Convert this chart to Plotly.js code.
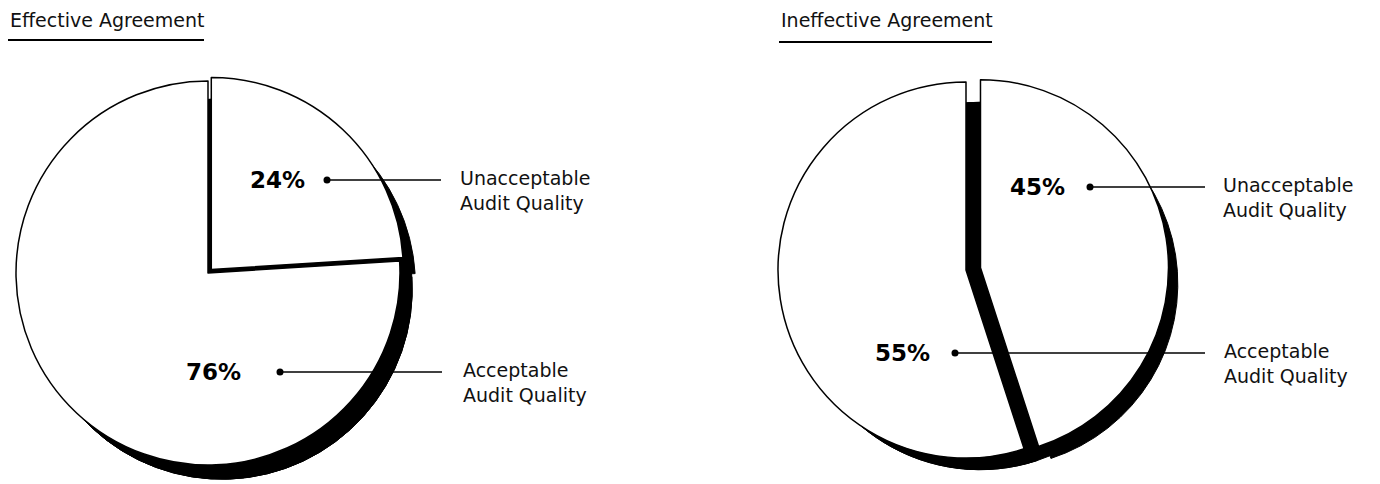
<!DOCTYPE html>
<html>
<head>
<meta charset="utf-8">
<script src="https://cdn.plot.ly/plotly-3.0.1.min.js"></script>
<style>
  html, body { margin: 0; padding: 0; background: #ffffff; overflow: hidden; }
  #chart { width: 1380px; height: 484px; }
</style>
</head>
<body>
<div id="chart"></div>
<script>
// ---- Data ----
const chartTitles = ["Effective Agreement", "Ineffective Agreement"];
const categories = ["Unacceptable<br>Audit Quality", "Acceptable<br>Audit Quality"];
const effectiveValues = [24, 76];
const ineffectiveValues = [45, 55];

// ---- Layout helpers (pixel -> paper) ----
const W = 1380, H = 484;
const px = x => x / W;
const py = y => 1 - y / H;

function boxHalf(cx, cy, half) {
  return Math.min(half, H - cy, cy, cx, W - cx);
}
function domainFromHalf(cx, cy, half) {
  return {
    x: [Math.max(0, (cx - half) / W), Math.min(1, (cx + half) / W)],
    y: [Math.max(0, 1 - (cy + half) / H), Math.min(1, 1 - (cy - half) / H)]
  };
}

const shadowOffset = { dx: 14, dy: 16 };

const pieSpecs = [
  { values: effectiveValues, pull: [0.025, 0], cx: 208, cy: 273, r: 192,
    title: { x: 8, y: 20, lineY: 40, lineX1: 204 },
    labels: [
      { pctRight: 307, y: 180, dotX: 327, lineEnd: 441, textX: 458 },
      { pctRight: 243, y: 372, dotX: 280, lineEnd: 442, textX: 461 }
    ] },
  { values: ineffectiveValues, pull: [0.078, 0], cx: 966, cy: 270, r: 188,
    title: { x: 779, y: 20, lineY: 42, lineX1: 992 },
    labels: [
      { pctRight: 1067, y: 187, dotX: 1090, lineEnd: 1205, textX: 1221 },
      { pctRight: 932, y: 353, dotX: 955, lineEnd: 1205, textX: 1222 }
    ] }
];

const shadowFill = [];
const shadowTraces = [];
const frontTraces = [];
const annotations = [];
const shapes = [];

pieSpecs.forEach((s, i) => {
  const pMax = Math.max(...s.pull);
  const scx = s.cx + shadowOffset.dx, scy = s.cy + shadowOffset.dy;
  const sHalf = boxHalf(scx, scy, s.r * (1 + pMax));
  const sR = sHalf / (1 + pMax);

  // unpulled black fill behind the shadow (closes the gap between pulled shadow slices)
  shadowFill.push({
    type: 'pie', values: s.values, labels: categories, sort: false,
    direction: 'clockwise', rotation: 0,
    domain: domainFromHalf(scx, scy, sR),
    marker: { colors: ['#000000', '#000000'], line: { color: '#000000', width: 1 } },
    textinfo: 'none', hoverinfo: 'skip', showlegend: false
  });
  shadowTraces.push({
    type: 'pie', values: s.values, labels: categories, sort: false,
    direction: 'clockwise', rotation: 0, pull: s.pull,
    domain: domainFromHalf(scx, scy, sHalf),
    marker: { colors: ['#000000', '#000000'], line: { color: '#000000', width: 1 } },
    textinfo: 'none', hoverinfo: 'skip', showlegend: false
  });
  frontTraces.push({
    type: 'pie', values: s.values, labels: categories, sort: false,
    direction: 'clockwise', rotation: 0, pull: s.pull,
    domain: domainFromHalf(s.cx, s.cy, boxHalf(s.cx, s.cy, s.r * (1 + pMax))),
    marker: { colors: ['#ffffff', '#ffffff'], line: { color: '#000000', width: 1.5 } },
    textinfo: 'none', hoverinfo: 'label+percent', showlegend: false
  });

  // title + underline
  annotations.push({
    xref: 'paper', yref: 'paper', x: px(s.title.x), y: py(s.title.y),
    xanchor: 'left', yanchor: 'middle', showarrow: false,
    text: chartTitles[i],
    font: { family: 'DejaVu Sans', size: 19, color: '#111111' }
  });
  shapes.push({
    type: 'line', xref: 'paper', yref: 'paper',
    x0: px(s.title.x), x1: px(s.title.lineX1), y0: py(s.title.lineY), y1: py(s.title.lineY),
    line: { color: '#000000', width: 2 }
  });

  // slice labels with leader lines
  s.labels.forEach((L, k) => {
    annotations.push({
      xref: 'paper', yref: 'paper', x: px(L.pctRight), y: py(L.y),
      xanchor: 'right', yanchor: 'middle', showarrow: false,
      text: '<b>' + s.values[k] + '%</b>',
      font: { family: 'DejaVu Sans', size: 23, color: '#000000' }
    });
    annotations.push({
      xref: 'paper', yref: 'paper', x: px(L.textX), y: py(L.y - 15),
      xanchor: 'left', yanchor: 'top', showarrow: false, align: 'left',
      text: categories[k],
      font: { family: 'DejaVu Sans', size: 19, color: '#111111' }
    });
    shapes.push({
      type: 'line', xref: 'paper', yref: 'paper',
      x0: px(L.dotX), x1: px(L.lineEnd), y0: py(L.y), y1: py(L.y),
      line: { color: '#000000', width: 1.6 }
    });
    shapes.push({
      type: 'circle', xref: 'paper', yref: 'paper',
      x0: px(L.dotX - 3.5), x1: px(L.dotX + 3.5), y0: py(L.y + 3.5), y1: py(L.y - 3.5),
      fillcolor: '#000000', line: { color: '#000000', width: 0 }
    });
  });
});

const layout = {
  width: W, height: H,
  margin: { l: 0, r: 0, t: 0, b: 0 },
  paper_bgcolor: '#ffffff', plot_bgcolor: '#ffffff',
  showlegend: false,
  annotations: annotations,
  shapes: shapes
};

Plotly.newPlot('chart', shadowFill.concat(shadowTraces, frontTraces), layout, { displayModeBar: false, staticPlot: true });
</script>
</body>
</html>
